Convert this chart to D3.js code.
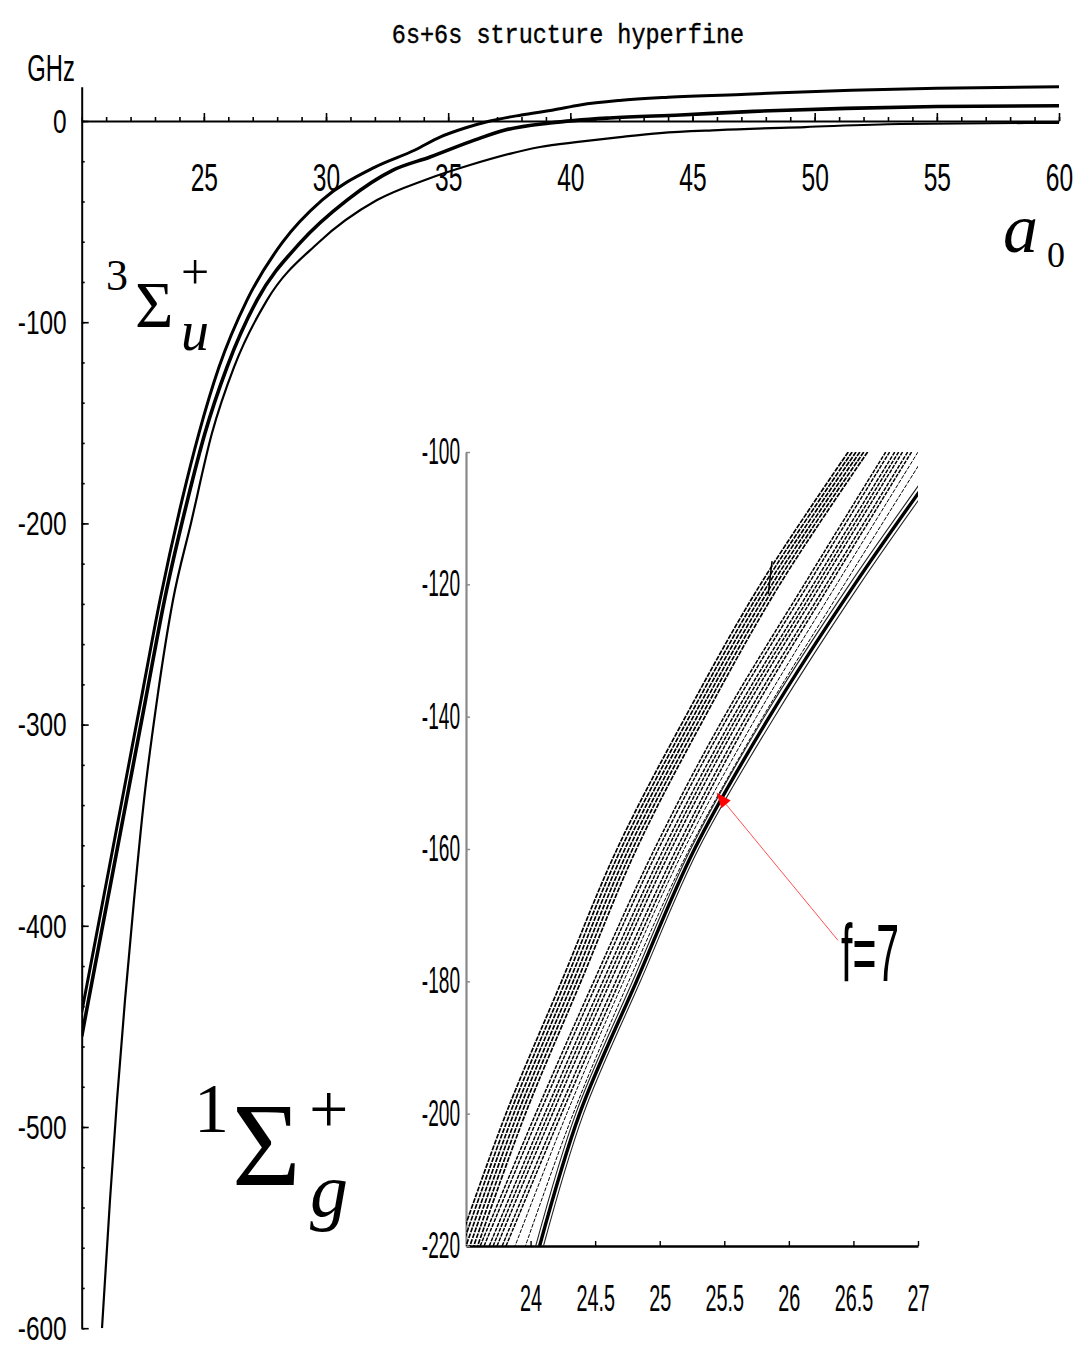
<!DOCTYPE html>
<html><head><meta charset="utf-8">
<script src="https://cdn.jsdelivr.net/npm/d3@7"></script>
<style>
body{margin:0;background:#fff;}
svg{display:block;background:#fff;}
</style></head><body>
<svg id="chart" width="1077" height="1346"></svg>
<script>
// ================= DATA =================
// main chart tick labels
const mainXTicks = [25, 30, 35, 40, 45, 50, 55, 60];
const mainYTicks = [0, -100, -200, -300, -400, -500, -600];
// inset tick labels
const insetXTicks = [24, 24.5, 25, 25.5, 26, 26.5, 27];
const insetYTicks = [-100, -120, -140, -160, -180, -200, -220];

// main chart curves: internuclear distance (a0) and energy (GHz)
const upperR = [20.0, 20.094, 20.872, 21.65, 22.427, 23.205, 24.106, 24.801, 25.62, 26.766, 28.199, 29.836, 32.005, 33.643, 34.666, 35.689, 36.713, 38.0, 39.3, 40.4, 42.0, 44.0, 47.2, 51.5, 55.0, 60.0];
const upperE = [-443, -437, -387.3, -337.6, -287.8, -238.1, -188.4, -155.1, -122.3, -89.0, -60.6, -39.3, -22.9, -14.4, -8.0, -3.5, 0, 3, 5.5, 8, 10.2, 11.8, 13.3, 15.3, 16.3, 17];

const middleR = [20.0, 20.278, 21.056, 21.834, 22.612, 23.389, 24.331, 25.047, 25.948, 27.176, 28.936, 30.86, 32.743, 34.258, 36.1, 37.33, 39.17, 41.6, 44.5, 47.5, 51.3, 55.0, 60.0];
const middleE = [-455, -437, -387.3, -337.6, -287.8, -238.1, -188.4, -155.1, -122.3, -89.0, -60.6, -39.3, -24.4, -17.9, -9.4, -4.5, -1.0, 1.5, 3, 4.8, 6.3, 7.2, 7.6];

const lowerR = [20.831, 21.158, 21.445, 21.772, 22.141, 22.55, 23.082, 23.737, 24.474, 25.333, 26.234, 27.585, 29.673, 32.088, 34.053, 35.895, 38.76, 40.316, 42.035, 43.672, 46.046, 49.607, 53.496, 60.0];
const lowerE = [-600, -536.3, -486.6, -436.9, -387.2, -337.5, -287.8, -238.1, -199.8, -155.1, -122.3, -89.0, -60.6, -39.3, -29.3, -21.9, -12.9, -10.4, -8.0, -6.0, -4.5, -3.0, -1.5, -0.9];

// inset: energy levels (GHz) at which each level's distance (a0) is read
const insetE = [-100, -120, -140, -160, -180, -200, -220];
// band A (upper levels, dense)
const bandA1 = [26.46, 25.78, 25.20, 24.67, 24.24, 23.81, 23.44];
const bandA2 = [26.49, 25.81, 25.23, 24.70, 24.27, 23.84, 23.47];
const bandA3 = [26.52, 25.84, 25.26, 24.73, 24.30, 23.87, 23.50];
const bandA4 = [26.55, 25.87, 25.29, 24.76, 24.33, 23.90, 23.53];
const bandA5 = [26.58, 25.90, 25.32, 24.79, 24.36, 23.93, 23.56];
const bandA6 = [26.61, 25.93, 25.35, 24.82, 24.39, 23.96, 23.59];
// band B (middle levels)
const bandB1 = [26.75, 26.12, 25.50, 24.96, 24.49, 24.04, 23.61];
const bandB2 = [26.78, 26.15, 25.53, 24.99, 24.52, 24.07, 23.64];
const bandB3 = [26.82, 26.19, 25.57, 25.03, 24.56, 24.11, 23.68];
const bandB4 = [26.85, 26.22, 25.60, 25.06, 24.59, 24.14, 23.71];
const bandB5 = [26.88, 26.25, 25.63, 25.09, 24.62, 24.17, 23.74];
const bandB6 = [26.92, 26.29, 25.67, 25.13, 24.66, 24.21, 23.78];
const bandB7 = [26.95, 26.32, 25.70, 25.16, 24.69, 24.24, 23.81];
// isolated thin levels between B and C
const thinT1 = [27.00, 26.37, 25.75, 25.19, 24.72, 24.28, 23.88];
const thinT2 = [27.07, 26.43, 25.80, 25.23, 24.76, 24.33, 23.96];
// band C (lowest levels, f=7)
const bandC1 = [27.19, 26.47, 25.81, 25.24, 24.79, 24.35, 24.04];
const bandC2 = [27.23, 26.51, 25.85, 25.27, 24.82, 24.38, 24.07];
const bandC3 = [27.27, 26.55, 25.89, 25.30, 24.85, 24.41, 24.10];
// small glitch segment in band A
const glitchR = [25.87, 25.84];
const glitchE = [-116.5, -121.5];
// annotation arrow (inset data coords): tail -> tip
const arrowR = [26.38, 25.44];
const arrowE = [-173.8, -151.5];

// ================= DRAWING =================
const svg = d3.select("#chart");

const x = d3.scaleLinear().domain([20, 60]).range([81.7, 1059]);
const y = d3.scaleLinear().domain([-600, 17]).range([1328.2, 86.8]);

const ix = d3.scaleLinear().domain([23.5, 27]).range([466, 918]);
const iy = d3.scaleLinear().domain([-220, -100]).range([1246, 452]);

const defs = svg.append("defs");
defs.append("clipPath").attr("id", "mainClip").append("rect")
  .attr("x", x(20)).attr("y", y(17) - 4).attr("width", x(60) - x(20) + 2).attr("height", y(-600) - y(17) + 4);
defs.append("clipPath").attr("id", "insetClip").append("rect")
  .attr("x", ix(23.5)).attr("y", iy(-100)).attr("width", ix(27) - ix(23.5)).attr("height", iy(-220) - iy(-100));

const zip = (a, b) => a.map((v, i) => [v, b[i]]);

// ---- title ----
svg.append("text")
  .attr("transform", "translate(568,43) scale(1,1.18)")
  .attr("text-anchor", "middle")
  .attr("font-family", "Liberation Mono, DejaVu Sans Mono, monospace")
  .attr("font-size", 23.5)
  .attr("fill", "#000")
  .attr("stroke", "#000").attr("stroke-width", 0.35)
  .text("6s+6s structure hyperfine");

// ---- main axes ----
const labelFont = "Liberation Sans, Arial, sans-serif";
function styleTicks(g, size, sx, xOverride, dy) {
  g.selectAll("text")
    .attr("font-family", labelFont)
    .attr("font-size", size)
    .attr("fill", "#000")
    .attr("transform", `scale(${sx},1)`);
  if (xOverride !== undefined) g.selectAll("text").attr("x", xOverride);
  if (dy !== undefined) g.selectAll("text").attr("dy", dy);
  g.attr("font-family", null).attr("font-size", null);
}

// x minor ticks
svg.append("g").attr("transform", `translate(0,${y(0)})`)
  .call(d3.axisBottom(x).ticks(40).tickSize(-4).tickSizeOuter(0).tickFormat(""))
  .call(g => g.select(".domain").remove())
  .call(g => g.selectAll("line").attr("stroke", "#000").attr("stroke-width", 1.6));
// x major ticks + labels
const gx = svg.append("g").attr("transform", `translate(0,${y(0)})`)
  .call(d3.axisBottom(x).tickValues(mainXTicks).tickSize(-8).tickSizeOuter(0).tickPadding(42).tickFormat(d => String(d)));
gx.select(".domain").attr("stroke", "#000").attr("stroke-width", 2.2);
gx.selectAll("line").attr("stroke", "#000").attr("stroke-width", 1.6);
styleTicks(gx, 39, 0.63);

// y minor ticks
svg.append("g").attr("transform", `translate(${x(20)},0)`)
  .call(d3.axisLeft(y).tickValues(d3.range(-600, 1, 20)).tickSize(-3).tickSizeOuter(0).tickFormat(""))
  .call(g => g.select(".domain").remove())
  .call(g => g.selectAll("line").attr("stroke", "#000").attr("stroke-width", 1.6));
// y major ticks + labels
const gy = svg.append("g").attr("transform", `translate(${x(20)},0)`)
  .call(d3.axisLeft(y).tickValues(mainYTicks).tickSize(-7).tickSizeOuter(0).tickFormat(d => String(d)));
gy.select(".domain").attr("stroke", "#000").attr("stroke-width", 2);
gy.selectAll("line").attr("stroke", "#000").attr("stroke-width", 1.6);
styleTicks(gy, 34, 0.72, -15 / 0.72, "0.33em");

// GHz label
svg.append("text").attr("transform", "translate(51,81) scale(0.66,1)")
  .attr("text-anchor", "middle").attr("font-family", labelFont).attr("font-size", 36).text("GHz");

// a0 label (single text element with sub part)
const serif = "Liberation Serif, Times New Roman, serif";
const a0 = svg.append("text").attr("font-family", serif).attr("fill", "#000");
a0.append("tspan").attr("x", 1003).attr("y", 252).attr("font-size", 70).attr("font-style", "italic").text("a");
a0.append("tspan").attr("x", 1047).attr("y", 267).attr("font-size", 36).text("0");

// ---- main curves ----
const mainLine = d3.line().x(d => x(d[0])).y(d => y(d[1])).curve(d3.curveMonotoneX);
const mainG = svg.append("g").attr("clip-path", "url(#mainClip)").attr("fill", "none").attr("stroke", "#000").attr("stroke-linejoin", "round");
mainG.append("path").attr("d", mainLine(zip(upperR, upperE))).attr("stroke-width", 3.0);
mainG.append("path").attr("d", mainLine(zip(middleR, middleE))).attr("stroke-width", 3.6);
mainG.append("path").attr("d", mainLine(zip(lowerR, lowerE))).attr("stroke-width", 2.2);

// state labels (each one text element with positioned parts)
const lab3 = svg.append("text").attr("font-family", serif).attr("fill", "#000");
lab3.append("tspan").attr("x", 106).attr("y", 290).attr("font-size", 44).text("3");
lab3.append("tspan").attr("x", 135).attr("y", 327).attr("font-size", 66).text("Σ");
lab3.append("tspan").attr("x", 181).attr("y", 289).attr("font-size", 50).text("+");
lab3.append("tspan").attr("x", 181).attr("y", 350).attr("font-size", 56).attr("font-style", "italic").text("u");

const lab1 = svg.append("text").attr("font-family", serif).attr("fill", "#000");
lab1.append("tspan").attr("x", 194).attr("y", 1132).attr("font-size", 70).text("1");
lab1.append("tspan").attr("x", 232).attr("y", 1185).attr("font-size", 118).text("Σ");
lab1.append("tspan").attr("x", 309).attr("y", 1133).attr("font-size", 70).text("+");
lab1.append("tspan").attr("x", 310).attr("y", 1216).attr("font-size", 76).attr("font-style", "italic").text("g");

// ---- inset axes ----
const gix = svg.append("g").attr("transform", `translate(0,${iy(-220)})`)
  .call(d3.axisBottom(ix).tickValues(insetXTicks).tickSize(-5).tickSizeOuter(0).tickPadding(39).tickFormat(d => String(d)));
gix.select(".domain").attr("stroke", "#000").attr("stroke-width", 2.6);
gix.selectAll("line").attr("stroke", "#000").attr("stroke-width", 1.4);
styleTicks(gix, 36, 0.55);

const giy = svg.append("g").attr("transform", `translate(${ix(23.5)},0)`)
  .call(d3.axisLeft(iy).tickValues(insetYTicks).tickSize(-4).tickSizeOuter(0).tickFormat(d => String(d)));
giy.select(".domain").attr("stroke", "#888").attr("stroke-width", 2.2);
giy.selectAll("line").attr("stroke", "#888").attr("stroke-width", 1.4);
styleTicks(giy, 36, 0.53, -6 / 0.53);

// ---- inset curves ----
const insetLine = d3.line().x(d => ix(d[0])).y(d => iy(d[1])).curve(d3.curveCatmullRom);
const insG = svg.append("g").attr("clip-path", "url(#insetClip)").attr("fill", "none").attr("stroke-linejoin", "round");
[bandA1, bandA2, bandA3, bandA4, bandA5, bandA6].forEach(b => {
  insG.append("path").attr("d", insetLine(zip(b, insetE))).attr("stroke", "#000").attr("stroke-width", 1.7).attr("stroke-dasharray", "5,1.2");
});
[bandB1, bandB2, bandB3, bandB4, bandB5, bandB6, bandB7].forEach(b => {
  insG.append("path").attr("d", insetLine(zip(b, insetE))).attr("stroke", "#000").attr("stroke-width", 1.5).attr("stroke-dasharray", "4,1.2");
});
[thinT1, thinT2].forEach(b => {
  insG.append("path").attr("d", insetLine(zip(b, insetE))).attr("stroke", "#000").attr("stroke-width", 1).attr("stroke-dasharray", "4,1.5");
});
insG.append("path").attr("d", insetLine(zip(bandC1, insetE))).attr("stroke", "#222").attr("stroke-width", 1.1);
insG.append("path").attr("d", insetLine(zip(bandC2, insetE))).attr("stroke", "#000").attr("stroke-width", 3.4);
insG.append("path").attr("d", insetLine(zip(bandC3, insetE))).attr("stroke", "#222").attr("stroke-width", 1.1);
insG.append("path").attr("d", d3.line().x(d => ix(d[0])).y(d => iy(d[1]))(zip(glitchR, glitchE))).attr("stroke", "#000").attr("stroke-width", 1.5);

// ---- annotation ----
const ax0 = ix(arrowR[0]), ay0 = iy(arrowE[0]), ax1 = ix(arrowR[1]), ay1 = iy(arrowE[1]);
const ang = Math.atan2(ay1 - ay0, ax1 - ax0);
const headLen = 15, headW = 6;
const bx = ax1 - headLen * Math.cos(ang), by = ay1 - headLen * Math.sin(ang);
svg.append("line").attr("x1", ax0).attr("y1", ay0).attr("x2", bx).attr("y2", by)
  .attr("stroke", "#ff5050").attr("stroke-width", 1);
svg.append("path")
  .attr("d", `M${ax1},${ay1}L${bx + headW * Math.sin(ang)},${by - headW * Math.cos(ang)}L${bx - headW * Math.sin(ang)},${by + headW * Math.cos(ang)}Z`)
  .attr("fill", "#ff0000");
svg.append("text").attr("transform", "translate(841,981) scale(0.5,1)")
  .attr("font-family", labelFont).attr("font-size", 82).attr("fill", "#000").text("f=7");
</script>
</body></html>
